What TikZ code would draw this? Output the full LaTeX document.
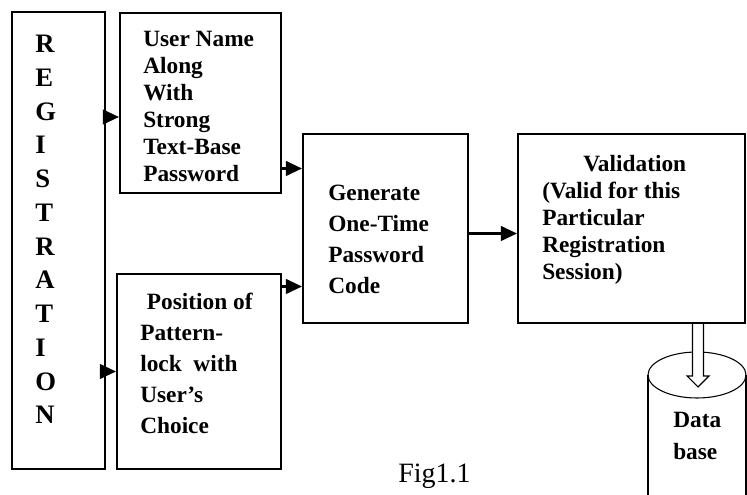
\documentclass[tikz,border=0pt]{standalone}
\usepackage{fontspec}
\setmainfont{Liberation Serif}
\usetikzlibrary{arrows.meta,calc}

\begin{document}
\begin{tikzpicture}[x=0.75pt,y=0.75pt,yscale=-1,xscale=1,
	box/.style={draw, line width=1.6pt, inner sep=0pt},
	arr/.style={line width=1.6pt, -{Triangle[length=12pt,width=11pt]}},
	txt/.style={anchor=north west, inner sep=0pt, align=left, font=\fontsize{17.5}{20.2}\selectfont\bfseries},
	wide/.style={font=\fontsize{17.5}{23.3}\selectfont\bfseries}]
	\useasboundingbox (0,0) rectangle (747,495);
	
	%Shape: Boxes
	\node [box, minimum width=69.75pt, minimum height=342.75pt] (reg) at (58.5,240.5) {};
	\node [box, minimum width=120.75pt, minimum height=135pt] (user) at (200.5,103) {};
	\node [box, minimum width=123pt, minimum height=146.25pt] (pos) at (199,371.5) {};
	\node [box, minimum width=123.75pt, minimum height=141.75pt] (gen) at (385.5,228.5) {};
	\node [box, minimum width=170.25pt, minimum height=141.75pt] (valid) at (631.5,228.5) {};
	
	%Shape: Cylinder
	\draw [line width=0.8pt] (648,375) -- (648,500) (746,375) -- (746,500);
	\draw [line width=0.8pt] (697,375) ellipse [x radius=49, y radius=23];
	\coordinate (dbtop) at (698,387);
	
	% Connectors
	\coordinate (u-in) at ($(user.west)+(0,14)$);
	\coordinate (g-in1) at ($(gen.west)+(0,-60)$);
	\coordinate (g-in2) at ($(gen.west)+(0,58)$);
	\coordinate (v-in) at ($(valid.west)+(0,5)$);
	\draw [arr] (reg.east |- u-in) -- (u-in);
	\draw [arr] (reg.east |- pos.west) -- (pos.west);
	\draw [arr] (user.east |- g-in1) -- (g-in1);
	\draw [arr] (pos.east |- g-in2) -- (g-in2);
	\draw [arr] (gen.east |- v-in) -- (v-in);
	\draw [line width=0.8pt, fill=white] ($(valid.south -| dbtop)+(-5.5,0)$) |- ($(dbtop)+(-11,-11)$) -- (dbtop) -- ($(dbtop)+(11,-11)$) -| ($(valid.south -| dbtop)+(5.5,0)$);
	
	% Text Node
	\node [txt, font=\fontsize{20}{25.3}\selectfont\bfseries] (reg-t) at (35,35) {R\\E\\G\\I\\S\\T\\R\\A\\T\\I\\O\\N};
	% Text Node
	\node [txt] (user-t) at (143,31) {User Name\\Along\\With\\Strong\\Text-Base\\Password};
	% Text Node
	\node [txt, wide] (pos-t) at (140,293) {\hspace*{5pt}Position of\\Pattern-\\lock\ \ with\\User’s\\Choice};
	% Text Node
	\node [txt, wide] (gen-t) at (328,185) {Generate\\One-Time\\Password\\Code};
	% Text Node
	\node [txt] (valid-t) at (542,155) {\hspace*{30.75pt}Validation\\(Valid for this\\Particular\\Registration\\Session)};
	% Text Node
	\node [txt, font=\fontsize{17.5}{24}\selectfont\bfseries] (db) at (673,412) {Data\\base};
	% Text Node
	\node [anchor=base, inner sep=0pt, font=\fontsize{21}{25}\selectfont] (fig) at (434.5,483) {Fig1.1};
	
\end{tikzpicture}
\end{document}
